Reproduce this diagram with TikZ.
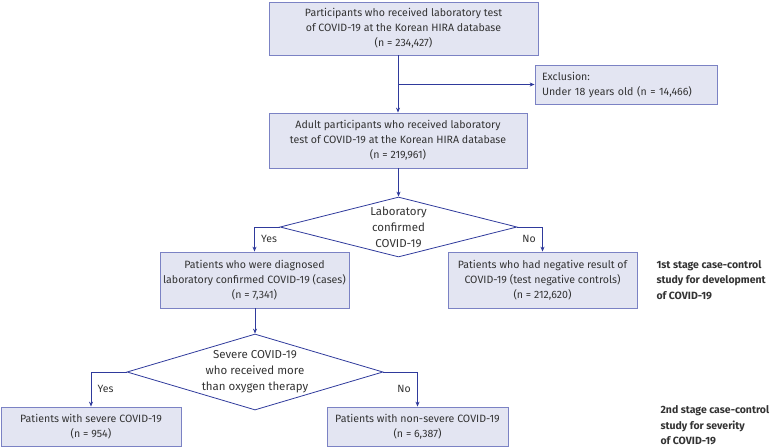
\documentclass[tikz,border=0pt]{standalone}
\usepackage{fontspec}
\setmainfont{Fira Sans}
\usepackage{xcolor}
\usetikzlibrary{positioning,shapes.geometric,arrows.meta}

\definecolor{boxfill}{HTML}{E3E5F2}
\definecolor{boxline}{HTML}{7B82C4}
\definecolor{flowline}{HTML}{2F3A9C}
\definecolor{txt}{HTML}{333333}

\begin{document}
\begin{tikzpicture}[
			x=1pt, y=-1pt,
			font=\fontsize{10.6}{15}\selectfont,
			text=txt,
			stagebox/.style={
				rectangle,
				draw=boxline,
				fill=boxfill,
				line width=0.8pt,
				align=center,
				inner sep=0pt
			},
			decision/.style={
				diamond,
				draw=flowline,
				line width=0.8pt,
				inner sep=0pt
			},
			flow/.style={
				draw=flowline,
				line width=0.8pt,
				-{Stealth[length=5pt,width=4pt]}
			},
			branch/.style={font=\fontsize{10.5}{12}\selectfont},
			stagenote/.style={
				align=left,
				anchor=west,
				font=\fontsize{10.5}{15.5}\selectfont\bfseries
			}
			]
			\useasboundingbox (0,0) rectangle (771,447);
			\node[stagebox, minimum width=269pt, minimum height=53pt] (tested) at (403.5,28.5)
				{Participants who received laboratory test\\of COVID-19 at the Korean HIRA database\\(n = 234,427)};
			\node[stagebox, minimum width=182pt, minimum height=39pt, align=left, text width=168pt] (excl) at (626,84.5)
				{Exclusion:\\Under 18 years old (n = 14,466)};
			\node[stagebox, minimum width=258pt, minimum height=55pt] (adult) at (398,140.5)
				{Adult participants who received laboratory\\test of COVID-19 at the Korean HIRA database\\(n = 219,961)};
			\node[decision, minimum width=237pt, minimum height=60pt,
				label={[align=center, font=\fontsize{11.5}{16}\selectfont]center:Laboratory\\confirmed\\COVID-19}] (lab) at (398.5,227) {};
			\node[stagebox, minimum width=189pt, minimum height=56pt] (cases) at (254.5,280)
				{Patients who were diagnosed\\laboratory confirmed COVID-19 (cases)\\(n = 7,341)};
			\node[stagebox, minimum width=189pt, minimum height=56pt] (controls) at (542.5,280)
				{Patients who had negative result of\\COVID-19 (test negative controls)\\(n = 212,620)};
			\node[stagenote] (note1) at (653,280)
				{1st stage case-control\\study for development\\of COVID-19};
			\node[decision, minimum width=256pt, minimum height=76pt,
				label={[align=center, font=\fontsize{11.5}{16}\selectfont]center:Severe COVID-19\\who received more\\than oxygen therapy}] (severity) at (255,372) {};
			\node[stagebox, minimum width=180pt, minimum height=39pt] (severe) at (91,426.5)
				{Patients with severe COVID-19\\(n = 954)};
			\node[stagebox, minimum width=181pt, minimum height=39pt] (nonsevere) at (417.5,426.5)
				{Patients with non-severe COVID-19\\(n = 6,387)};
			\node[stagenote] (note2) at (657,425.5)
				{2nd stage case-control\\study for severity\\of COVID-19};

			% connectors
			\draw[flow] (tested.south -| adult.north) -- (adult.north);
			\coordinate (split) at (adult.north |- excl.west);
			\draw[flow] (split) -- (excl.west);
			\draw[flow] (adult.south -| lab.north) -- (lab.north);
			\draw[flow] (lab.west) -| (cases.north) node[branch, pos=0.75, right=3pt] (yes1) {Yes};
			\draw[flow] (lab.east) -| (controls.north) node[branch, pos=0.75, left=3pt] (no1) {No};
			\draw[flow] (cases.south -| severity.north) -- (severity.north);
			\draw[flow] (severity.west) -| (severe.north) node[branch, pos=0.75, right=3pt] (yes2) {Yes};
			\draw[flow] (severity.east) -| (nonsevere.north) node[branch, pos=0.75, left=3pt] (no2) {No};
		\end{tikzpicture}
\end{document}
